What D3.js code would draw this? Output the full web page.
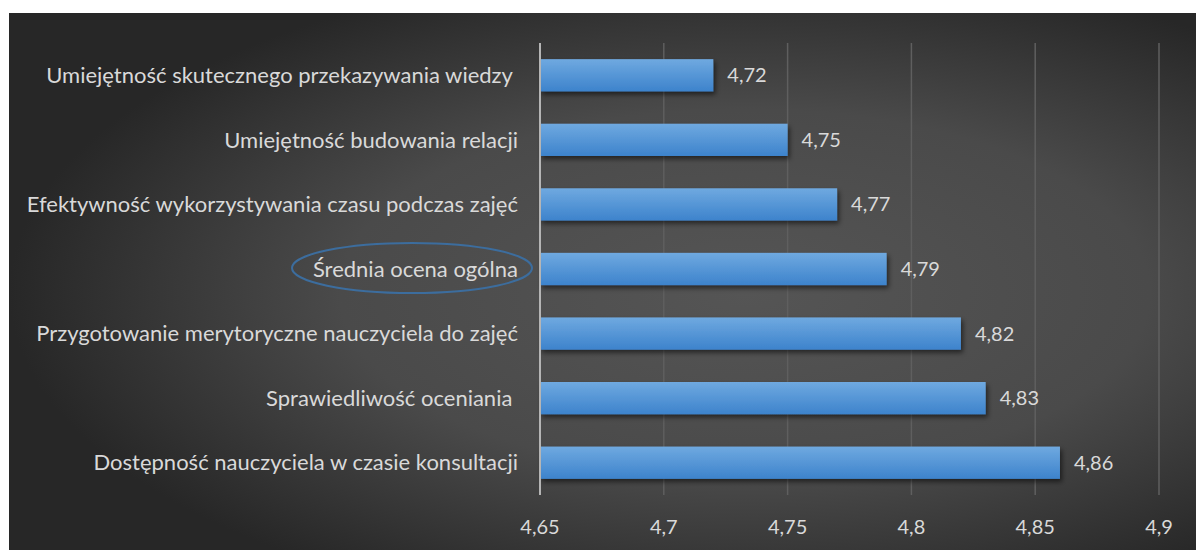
<!DOCTYPE html>
<html>
<head>
<meta charset="utf-8">
<title>Oceny</title>
<style>
  html, body { margin: 0; padding: 0; background: #fff; }
  svg { display: block; }
  text { font-family: Lato, "Open Sans", sans-serif; fill: #d9d9d9; }
</style>
</head>
<body>
<div id="chart"></div>
<script src="https://d3js.org/d3.v7.min.js"></script>
<script>
const categories = [
  "Umiejętność skutecznego przekazywania wiedzy ",
  "Umiejętność budowania relacji",
  "Efektywność wykorzystywania czasu podczas zajęć",
  "Średnia ocena ogólna",
  "Przygotowanie merytoryczne nauczyciela do zajęć",
  "Sprawiedliwość oceniania ",
  "Dostępność nauczyciela w czasie konsultacji"
];
const values = [4.72, 4.75, 4.77, 4.79, 4.82, 4.83, 4.86];
const ticks = [4.65, 4.7, 4.75, 4.8, 4.85, 4.9];
const highlighted = "Średnia ocena ogólna";

const W = 1196, H = 550;
const fmt = v => String(v).replace('.', ',');

const svg = d3.select('#chart').append('svg').attr('width', W).attr('height', H);
const defs = svg.append('defs');

const bg = defs.append('radialGradient').attr('id', 'bg')
  .attr('cx', '62%').attr('cy', '52%').attr('r', '62%');
bg.append('stop').attr('offset', '0%').attr('stop-color', '#555555');
bg.append('stop').attr('offset', '55%').attr('stop-color', '#4a4a4a');
bg.append('stop').attr('offset', '100%').attr('stop-color', '#272727');

const barGrad = defs.append('linearGradient').attr('id', 'bar')
  .attr('x1', 0).attr('y1', 0).attr('x2', 0).attr('y2', 1);
barGrad.append('stop').attr('offset', '0%').attr('stop-color', '#6fa9e0');
barGrad.append('stop').attr('offset', '100%').attr('stop-color', '#3d83cc');

const shadow = defs.append('filter').attr('id', 'shadow')
  .attr('x', '-5%').attr('y', '-30%').attr('width', '115%').attr('height', '180%');
shadow.append('feDropShadow').attr('dx', 2).attr('dy', 3).attr('stdDeviation', 2.5)
  .attr('flood-color', '#000').attr('flood-opacity', 0.55);

svg.append('rect').attr('x', 9).attr('y', 13).attr('width', W - 9).attr('height', H - 13)
  .attr('fill', 'url(#bg)');

const x = d3.scaleLinear().domain([4.65, 4.9]).range([540, 1159]);
const y = d3.scaleBand().domain(categories).range([43, 495]).paddingInner(0.5).paddingOuter(0.25);

// gridlines
svg.append('g').selectAll('line').data(ticks.slice(1)).enter().append('line')
  .attr('x1', d => x(d)).attr('x2', d => x(d))
  .attr('y1', 43).attr('y2', 495)
  .attr('stroke', '#5f5f5f').attr('stroke-width', 1.5);

// bars
svg.append('g').selectAll('rect').data(values).enter().append('rect')
  .attr('x', x(4.65))
  .attr('y', (d, i) => y(categories[i]))
  .attr('width', d => x(d) - x(4.65))
  .attr('height', y.bandwidth())
  .attr('fill', 'url(#bar)')
  .attr('filter', 'url(#shadow)');

// axis line
svg.append('line').attr('x1', x(4.65)).attr('x2', x(4.65)).attr('y1', 43).attr('y2', 495)
  .attr('stroke', '#b5b5b5').attr('stroke-width', 2);

// value labels
svg.append('g').selectAll('text').data(values).enter().append('text')
  .attr('x', d => x(d) + 14)
  .attr('y', (d, i) => y(categories[i]) + y.bandwidth() / 2)
  .attr('dy', '0.35em')
  .style('font-size', '20px')
  .text(d => fmt(d));

// category labels
svg.append('g').selectAll('text').data(categories).enter().append('text')
  .attr('x', 518)
  .attr('y', d => y(d) + y.bandwidth() / 2)
  .attr('dy', '0.35em')
  .attr('text-anchor', 'end')
  .attr('xml:space', 'preserve')
  .style('white-space', 'pre')
  .style('font-size', '22px')
  .text(d => d);

// x tick labels
svg.append('g').selectAll('text').data(ticks).enter().append('text')
  .attr('x', d => x(d))
  .attr('y', 527)
  .attr('dy', '0.35em')
  .attr('text-anchor', 'middle')
  .style('font-size', '20px')
  .text(d => fmt(d));

// highlight ellipse
const hy = y(highlighted) + y.bandwidth() / 2;
svg.append('ellipse').attr('cx', 412).attr('cy', hy - 1).attr('rx', 120).attr('ry', 25)
  .attr('fill', 'none').attr('stroke', '#3c6d9e').attr('stroke-width', 2);
</script>
</body>
</html>
